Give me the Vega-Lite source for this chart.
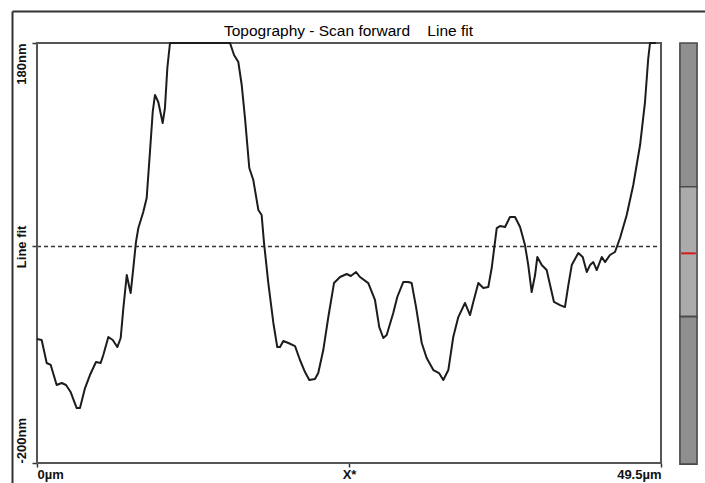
{
  "$schema": "https://vega.github.io/schema/vega-lite/v6.json",
  "autosize": {"type": "none"},
  "padding": {"left": 12, "top": 11, "right": 0, "bottom": 0},
  "width": 693,
  "height": 472,
  "background": "white",
  "data": {"values": [{}]},
  "title": {
    "text": "Topography - Scan forward\u00a0\u00a0\u00a0 Line fit",
    "anchor": "middle",
    "frame": "group",
    "baseline": "alphabetic",
    "offset": 0,
    "dy": 40,
    "dx": -10,
    "font": "Liberation Sans",
    "fontSize": 15.5,
    "fontWeight": "normal",
    "color": "#000000"
  },
  "config": {
    "view": {"stroke": null},
    "axis": {"grid": false}
  },
  "datasets": {
    "profile": [
      {"um": 0, "nm": -87.8}, {"um": 0.37, "nm": -88.7}, {"um": 0.77, "nm": -109.5}, {"um": 1.09, "nm": -111.3},
      {"um": 1.56, "nm": -129.4}, {"um": 1.96, "nm": -127.6}, {"um": 2.3, "nm": -129.4}, {"um": 2.67, "nm": -135.8},
      {"um": 3.15, "nm": -150.3}, {"um": 3.41, "nm": -150.3}, {"um": 3.81, "nm": -132.2}, {"um": 4.2, "nm": -120.4},
      {"um": 4.68, "nm": -108.6}, {"um": 5.05, "nm": -109.5}, {"um": 5.26, "nm": -102.3}, {"um": 5.66, "nm": -86.0},
      {"um": 6.01, "nm": -88.7}, {"um": 6.37, "nm": -95.1}, {"um": 6.64, "nm": -86.9}, {"um": 6.85, "nm": -59.8},
      {"um": 7.12, "nm": -29.9}, {"um": 7.32, "nm": -40.8}, {"um": 7.43, "nm": -46.2}, {"um": 7.64, "nm": -23.6},
      {"um": 7.85, "nm": -0.1}, {"um": 8.04, "nm": 12.6}, {"um": 8.43, "nm": 27.1}, {"um": 8.7, "nm": 39.8},
      {"um": 8.96, "nm": 81.4}, {"um": 9.18, "nm": 117.6}, {"um": 9.36, "nm": 133.0}, {"um": 9.62, "nm": 126.6},
      {"um": 9.97, "nm": 107.6}, {"um": 10.15, "nm": 121.2}, {"um": 10.34, "nm": 157.4}, {"um": 10.55, "nm": 180},
      {"um": 15.31, "nm": 180}, {"um": 15.63, "nm": 169.1}, {"um": 15.97, "nm": 162.8}, {"um": 16.24, "nm": 142},
      {"um": 16.5, "nm": 112.1}, {"um": 16.84, "nm": 66.9}, {"um": 17.16, "nm": 56}, {"um": 17.56, "nm": 28.9},
      {"um": 17.82, "nm": 24.4}, {"um": 18.01, "nm": -1}, {"um": 18.35, "nm": -37.2}, {"um": 18.75, "nm": -73.3},
      {"um": 19.06, "nm": -95.1}, {"um": 19.28, "nm": -95.1}, {"um": 19.54, "nm": -89.6}, {"um": 19.94, "nm": -91.4},
      {"um": 20.47, "nm": -94.2}, {"um": 20.86, "nm": -106.8}, {"um": 21.26, "nm": -117.7}, {"um": 21.6, "nm": -124.9},
      {"um": 22.05, "nm": -124.0}, {"um": 22.31, "nm": -118.6}, {"um": 22.71, "nm": -97.8}, {"um": 23.11, "nm": -67.9},
      {"um": 23.56, "nm": -37.2}, {"um": 24.04, "nm": -31.7}, {"um": 24.57, "nm": -29.0}, {"um": 24.89, "nm": -30.8},
      {"um": 25.31, "nm": -27.2}, {"um": 25.62, "nm": -31.7}, {"um": 26.28, "nm": -37.2}, {"um": 26.81, "nm": -52.5},
      {"um": 27.15, "nm": -77.0}, {"um": 27.47, "nm": -86.9}, {"um": 27.74, "nm": -84.2}, {"um": 28.26, "nm": -64.3},
      {"um": 28.58, "nm": -49.8}, {"um": 29.06, "nm": -36.2}, {"um": 29.45, "nm": -36.2}, {"um": 29.72, "nm": -37.2},
      {"um": 30.07, "nm": -58.9}, {"um": 30.52, "nm": -91.4}, {"um": 30.91, "nm": -105}, {"um": 31.44, "nm": -115.9},
      {"um": 31.89, "nm": -118.6}, {"um": 32.23, "nm": -124.9}, {"um": 32.63, "nm": -115.9}, {"um": 33.02, "nm": -86.0},
      {"um": 33.42, "nm": -68.0}, {"um": 33.95, "nm": -55.2}, {"um": 34.35, "nm": -66.1}, {"um": 34.61, "nm": -54.3},
      {"um": 35.01, "nm": -37.2}, {"um": 35.4, "nm": -41.7}, {"um": 35.8, "nm": -40.8}, {"um": 36.07, "nm": -23.6},
      {"um": 36.47, "nm": 12.6}, {"um": 36.73, "nm": 14.4}, {"um": 37.13, "nm": 13.5}, {"um": 37.52, "nm": 22.6},
      {"um": 37.92, "nm": 22.6}, {"um": 38.32, "nm": 13.5}, {"um": 38.71, "nm": -2.8}, {"um": 38.97, "nm": -20.9},
      {"um": 39.24, "nm": -45.3}, {"um": 39.51, "nm": -29.9}, {"um": 39.69, "nm": -13.6}, {"um": 40.04, "nm": -20.9},
      {"um": 40.43, "nm": -25.4}, {"um": 40.7, "nm": -39.0}, {"um": 41.01, "nm": -54.3}, {"um": 41.49, "nm": -57.1},
      {"um": 41.88, "nm": -58.9}, {"um": 42.15, "nm": -39.0}, {"um": 42.42, "nm": -20.9}, {"um": 42.94, "nm": -10.0},
      {"um": 43.29, "nm": -13.6}, {"um": 43.61, "nm": -27.2}, {"um": 43.87, "nm": -20.9}, {"um": 44.13, "nm": -18.2},
      {"um": 44.4, "nm": -25.4}, {"um": 44.8, "nm": -13.6}, {"um": 45.06, "nm": -18.2}, {"um": 45.45, "nm": -11.8},
      {"um": 45.85, "nm": -9.1}, {"um": 46.25, "nm": 3.6}, {"um": 46.78, "nm": 24.4}, {"um": 47.3, "nm": 51.5},
      {"um": 47.84, "nm": 87.7}, {"um": 48.23, "nm": 126.6}, {"um": 48.49, "nm": 166.4}, {"um": 48.63, "nm": 180},
      {"um": 49.1, "nm": 180}
    ],
    "colorbar": [
      {"zone": "upper", "from": 50, "to": 180},
      {"zone": "range", "from": -67.6, "to": 50},
      {"zone": "lower", "from": -201, "to": -67.6}
    ]
  },
  "resolve": {"axis": {"x": "independent", "y": "independent"}},
  "layer": [
    {
      "description": "Line fit reference level (dashed) plus the outer window edges as axis domains",
      "mark": {"type": "rule", "stroke": "#333333", "strokeWidth": 1.5, "strokeDash": [4, 3]},
      "encoding": {
        "x": {
          "datum": 0, "type": "quantitative",
          "scale": {"domain": [-1.983, 52.99], "nice": false, "zero": false},
          "axis": {"orient": "top", "offset": 0, "labels": false, "ticks": false, "title": null,
                   "domain": true, "domainColor": "#333333", "domainWidth": 2}
        },
        "x2": {"datum": 49.5},
        "y": {
          "datum": -4, "type": "quantitative",
          "scale": {"domain": [-218.08, 208.95], "nice": false, "zero": false},
          "axis": {"orient": "left", "offset": 0, "labels": false, "ticks": false, "title": null,
                   "domain": true, "domainColor": "#333333", "domainWidth": 2}
        }
      }
    },
    {
      "description": "Plot frame",
      "mark": {"type": "rect", "fillOpacity": 0, "stroke": "#555555", "strokeWidth": 2},
      "encoding": {
        "x": {"datum": 0, "type": "quantitative", "axis": null},
        "x2": {"datum": 49.5},
        "y": {"datum": -200, "type": "quantitative", "axis": null},
        "y2": {"datum": 180}
      }
    },
    {
      "description": "Height profile along the scan line",
      "data": {"name": "profile"},
      "mark": {"type": "line", "stroke": "#1c1c1c", "strokeWidth": 2, "strokeJoin": "round"},
      "encoding": {
        "x": {
          "field": "um", "type": "quantitative",
          "axis": {
            "orient": "bottom", "offset": -20, "title": null, "domain": false,
            "values": [0, 24.75, 49.5],
            "labelExpr": "datum.value == 0 ? '0µm' : datum.value == 49.5 ? '49.5µm' : 'X*'",
            "labelAlign": {"condition": [{"test": "datum.value == 0", "value": "left"}, {"test": "datum.value == 49.5", "value": "right"}], "value": "center"},
            "labelBaseline": "top", "labelPadding": 1, "labelOverlap": false,
            "labelFont": "Liberation Sans", "labelFontSize": 13, "labelFontWeight": "bold", "labelColor": "#111111",
            "tickSize": 4, "tickColor": "#333333", "tickWidth": 1.5
          }
        },
        "y": {
          "field": "nm", "type": "quantitative",
          "axis": {
            "orient": "left", "offset": -25, "title": null, "domain": false,
            "values": [180, -4, -200],
            "labelExpr": "datum.value == 180 ? '180nm' : datum.value == -200 ? '-200nm' : 'Line fit'",
            "labelAngle": 270,
            "labelAlign": {"condition": [{"test": "datum.value == 180", "value": "right"}, {"test": "datum.value == -200", "value": "left"}], "value": "center"},
            "labelBaseline": "middle", "labelPadding": 11, "labelOverlap": false,
            "labelFont": "Liberation Sans", "labelFontSize": 13, "labelFontWeight": "bold", "labelColor": "#111111",
            "tickSize": 5, "tickColor": "#333333", "tickWidth": 1.5
          }
        }
      }
    },
    {
      "description": "Colour bar with the selected data range highlighted",
      "data": {"name": "colorbar"},
      "mark": {"type": "rect", "stroke": "#4a4a4a", "strokeWidth": 1.6},
      "encoding": {
        "x": {"datum": 51.0, "type": "quantitative", "axis": null},
        "x2": {"datum": 52.36},
        "y": {"field": "from", "type": "quantitative", "axis": null},
        "y2": {"field": "to"},
        "fill": {
          "field": "zone", "type": "nominal", "legend": null,
          "scale": {"domain": ["upper", "range", "lower"], "range": ["#8f8f8f", "#ababab", "#8f8f8f"]}
        }
      }
    },
    {
      "description": "Current level marker on the colour bar",
      "mark": {"type": "rule", "stroke": "#d81a1a", "strokeWidth": 2},
      "encoding": {
        "x": {"datum": 51.1, "type": "quantitative", "axis": null},
        "x2": {"datum": 52.26},
        "y": {"datum": -10.3, "type": "quantitative", "axis": null}
      }
    }
  ]
}
